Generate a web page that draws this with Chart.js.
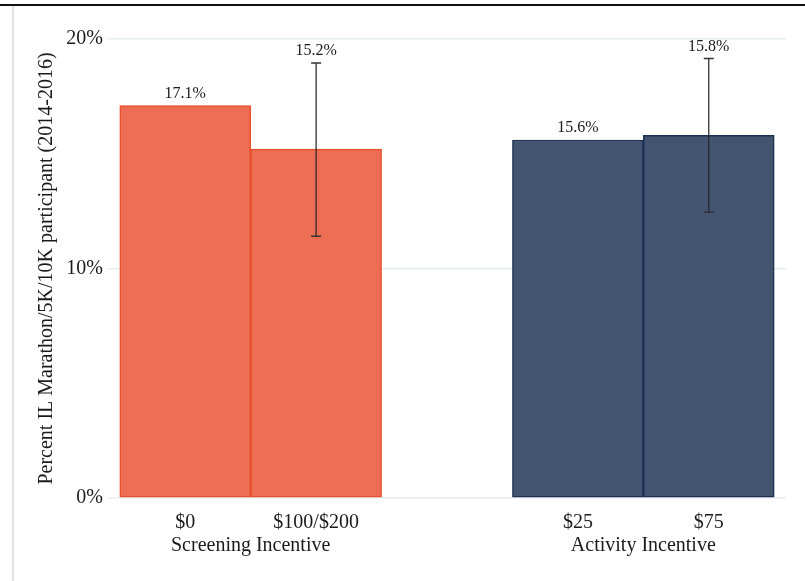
<!DOCTYPE html>
<html lang="en">
<head>
  <meta charset="UTF-8" />
  <title>IL Marathon participation by incentive</title>
  <script src="https://cdn.jsdelivr.net/npm/chart.js"></script>
  <style>
    body {
      margin: 0;
      background: #ffffff;
    }

    .frame {
      position: relative;
      width: 805px;
      height: 581px;
      overflow: hidden;
    }

    .frame .top-rule {
      position: absolute;
      left: 0;
      top: 4px;
      width: 805px;
      height: 2px;
      background: #111;
    }

    .frame .left-rule {
      position: absolute;
      left: 12px;
      top: 6px;
      width: 2px;
      height: 575px;
      background: #e2e2e2;
    }

    .chart-box {
      position: absolute;
      left: 0;
      top: 0;
      width: 805px;
      height: 581px;
    }
  </style>
</head>
<body>
  <div class="frame">
    <div class="top-rule"></div>
    <div class="left-rule"></div>
    <div class="chart-box"><canvas id="incentiveChart"></canvas></div>
  </div>

  <script>
    // data
    const categories = ['$0', '$100/$200', '$25', '$75'];
    const groupNames = ['Screening Incentive', 'Activity Incentive'];
    const groupOf = [0, 0, 1, 1];
    const rates = [17.1, 15.2, 15.6, 15.8];
    const ciLow = [null, 11.4, null, 12.45];
    const ciHigh = [null, 18.95, null, 19.15];
    const yTicks = [0, 10, 20];
    const yTitle = 'Percent IL Marathon/5K/10K participant (2014-2016)';

    // one empty slot between the two groups
    const xPos = categories.map((c, i) => i + groupOf[i]);
    const groupPos = groupNames.map((g, gi) => {
      const members = xPos.filter((p, i) => groupOf[i] === gi);
      return members.reduce((a, b) => a + b, 0) / members.length;
    });

    const fills = ['#ee6e55', '#435471'];
    const edges = ['#e84f2d', '#1d3152'];
    const serif = 'Liberation Serif, Times New Roman, serif';
    const ink = '#1a1a1a';

    const errorBars = {
      id: 'errorBars',
      afterDatasetsDraw(chart) {
        const { ctx, scales: { y } } = chart;
        const bars = chart.getDatasetMeta(0).data;
        ctx.save();
        bars.forEach((bar, i) => {
          let top = bar.y;
          if (ciLow[i] != null) {
            const lo = y.getPixelForValue(ciLow[i]);
            const hi = y.getPixelForValue(ciHigh[i]);
            ctx.strokeStyle = '#222';
            ctx.lineWidth = 1.2;
            ctx.beginPath();
            ctx.moveTo(bar.x, lo);
            ctx.lineTo(bar.x, hi);
            ctx.stroke();
            ctx.lineWidth = 1.5;
            ctx.strokeStyle = '#333';
            ctx.beginPath();
            ctx.moveTo(bar.x - 5, lo);
            ctx.lineTo(bar.x + 5, lo);
            ctx.moveTo(bar.x - 5, hi);
            ctx.lineTo(bar.x + 5, hi);
            ctx.stroke();
            top = hi;
          }
          ctx.fillStyle = ink;
          ctx.font = '16px ' + serif;
          ctx.textAlign = 'center';
          ctx.textBaseline = 'bottom';
          ctx.fillText(rates[i].toFixed(1) + '%', bar.x, top - 4);
        });
        ctx.restore();
      }
    };

    new Chart(document.getElementById('incentiveChart'), {
      type: 'bar',
      data: {
        datasets: [{
          data: xPos.map((x, i) => ({ x: x, y: rates[i] })),
          backgroundColor: groupOf.map(g => fills[g]),
          borderColor: groupOf.map(g => edges[g]),
          borderWidth: 1.5,
          borderSkipped: false,
          barPercentage: 1,
          categoryPercentage: 1
        }]
      },
      options: {
        responsive: true,
        maintainAspectRatio: false,
        animation: false,
        layout: { padding: { top: 39, right: 19, bottom: 21, left: 0 } },
        plugins: {
          legend: { display: false },
          tooltip: { enabled: false }
        },
        scales: {
          x: {
            type: 'linear',
            offset: false,
            min: -0.59,
            max: 4.59,
            afterBuildTicks: s => { s.ticks = xPos.map(v => ({ value: v })); },
            afterFit: s => { s.height = 32; },
            ticks: {
              callback: (v, i) => categories[i],
              font: { family: serif, size: 20 },
              color: ink,
              padding: 13,
              maxRotation: 0,
              autoSkip: false
            },
            grid: { display: false, drawTicks: false },
            border: { display: false }
          },
          x2: {
            type: 'linear',
            position: 'bottom',
            offset: false,
            weight: 1,
            min: -0.59,
            max: 4.59,
            afterBuildTicks: s => { s.ticks = groupPos.map(v => ({ value: v })); },
            afterFit: s => { s.height = 30; },
            ticks: {
              callback: (v, i) => groupNames[i],
              font: { family: serif, size: 20 },
              color: ink,
              padding: 4,
              maxRotation: 0,
              autoSkip: false
            },
            grid: { display: false, drawTicks: false },
            border: { display: false }
          },
          y: {
            min: 0,
            max: 20,
            afterBuildTicks: s => { s.ticks = yTicks.map(v => ({ value: v })); },
            afterFit: s => { s.width = 108; },
            ticks: {
              callback: v => v + '%',
              font: { family: serif, size: 20 },
              color: ink,
              padding: 5
            },
            grid: { color: '#e7eef1', lineWidth: 1.5, drawTicks: false },
            border: { display: false },
            title: {
              display: true,
              text: yTitle,
              font: { family: serif, size: 20 },
              color: ink,
              padding: { top: 35, bottom: 0 }
            }
          }
        }
      },
      plugins: [errorBars]
    });
  </script>
</body>
</html>
